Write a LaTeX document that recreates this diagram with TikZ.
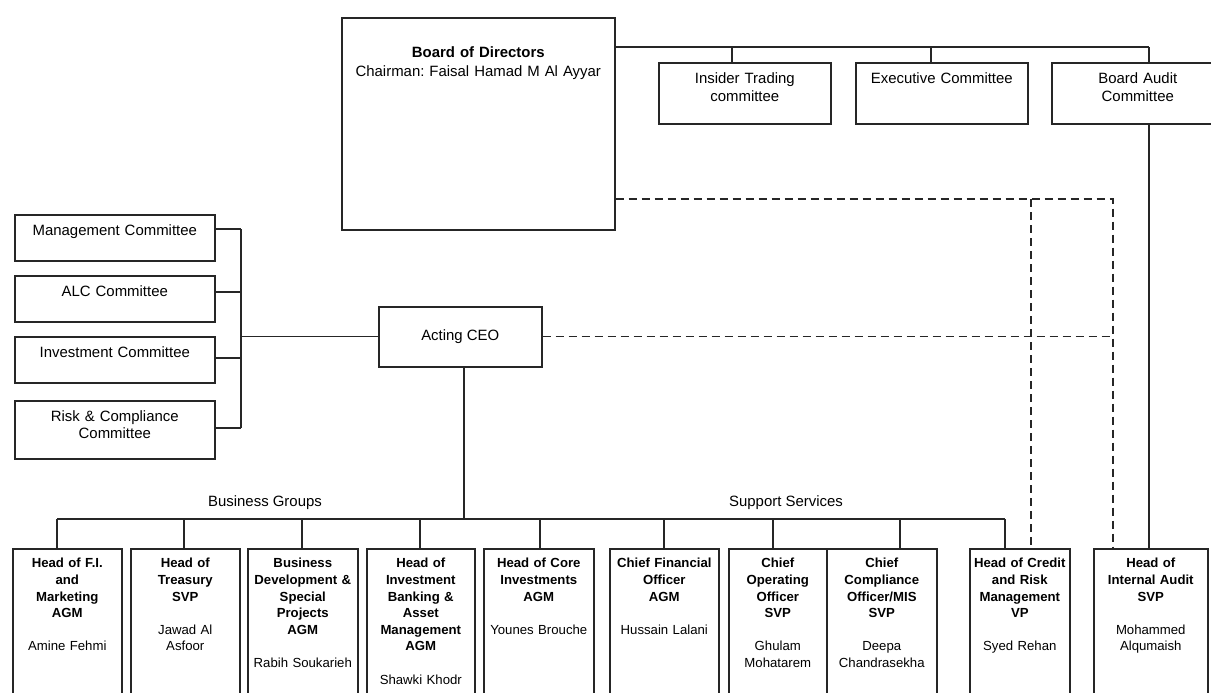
\documentclass[tikz,border=0pt]{standalone}
\usepackage{fontspec}
\setmainfont{Liberation Sans}
\usepackage{tikz}
\frenchspacing

\newcommand{\pxu}{0.02cm}
\newcommand{\holder}[2]{{\bfseries #1}\\[9.45pt]#2}

\begin{document}
\begin{tikzpicture}[x=0.02cm,y=-0.02cm,
  unit/.style={draw=black!85, line width=0.9pt, anchor=north west, inner sep=0pt},
  wh/.style 2 args={minimum width=#1*\pxu, minimum height=#2*\pxu},
  link/.style={draw=black!85, line width=0.75pt},
  dashlink/.style={link, dash pattern=on 4.6pt off 2.8pt},
  tag/.style={anchor=north, align=center, inner sep=0pt, text width=4.2cm,
    yshift=-10.6*\pxu, font=\fontsize{8.5}{9.6}\selectfont},
  poste/.style={tag, text width=2.2cm, yshift=0.6*\pxu, font=\fontsize{7.5}{9.45}\selectfont},
  grouptag/.style={inner sep=0pt, font=\fontsize{8.5}{10}\selectfont}]

\useasboundingbox (0,0) rectangle (1211,693);
\clip (0,0) rectangle (1211,693);

% board and board committees
\node[unit, wh={273}{212}, label={[tag, text width=5.4cm, yshift=-19*\pxu,
  font=\fontsize{8.5}{10.8}\selectfont]above:{\textbf{Board of Directors}\\Chairman: Faisal Hamad M Al Ayyar}}] (board) at (341,17) {};
\node[unit, wh={172}{61}, label={[tag, font=\fontsize{8.5}{10.2}\selectfont]above:{Insider Trading\\committee}}] (insider) at (658,62) {};
\node[unit, wh={172}{61}, label={[tag]above:{Executive Committee}}] (execc) at (855,62) {};
\node[unit, wh={172}{61}, label={[tag, font=\fontsize{8.5}{10.2}\selectfont]above:{Board Audit\\Committee}}] (baudit) at (1051,62) {};

% management committees
\node[unit, wh={200}{46}, label={[tag]above:{Management Committee}}] (mgmt) at (14,214) {};
\node[unit, wh={200}{46}, label={[tag]above:{ALC Committee}}] (alc) at (14,275) {};
\node[unit, wh={200}{46}, label={[tag]above:{Investment Committee}}] (invc) at (14,336) {};
\node[unit, wh={200}{58}, label={[tag]above:{Risk \& Compliance\\Committee}}] (risk) at (14,400) {};

\node[unit, wh={163}{60}, font=\fontsize{8.5}{10}\selectfont] (ceo) at (378,306) {Acting CEO};

% business groups and support services
\node[unit, wh={109}{152}, label={[poste]above:{\holder{Head of F.I.\\and\\Marketing\\AGM}{Amine Fehmi}}}] (fim) at (12,548) {};
\node[unit, wh={109}{152}, label={[poste]above:{\holder{Head of\\Treasury\\SVP}{Jawad Al\\Asfoor}}}] (treas) at (130,548) {};
\node[unit, wh={110}{152}, label={[poste]above:{\holder{Business\\Development \&\\Special\\Projects\\AGM}{Rabih Soukarieh}}}] (bizdev) at (247,548) {};
\node[unit, wh={108}{152}, label={[poste]above:{\holder{Head of\\Investment\\Banking \&\\Asset\\Management\\AGM}{Shawki Khodr}}}] (invbank) at (366,548) {};
\node[unit, wh={110}{152}, label={[poste]above:{\holder{Head of Core\\Investments\\AGM}{Younes Brouche}}}] (core) at (483,548) {};
\node[unit, wh={109}{152}, label={[poste]above:{\holder{Chief Financial\\Officer\\AGM}{Hussain Lalani}}}] (cfo) at (609,548) {};
\node[unit, wh={98}{152}, label={[poste]above:{\holder{Chief\\Operating\\Officer\\SVP}{Ghulam\\Mohatarem}}}] (coo) at (728,548) {};
\node[unit, wh={110}{152}, label={[poste]above:{\holder{Chief\\Compliance\\Officer/MIS\\SVP}{Deepa\\Chandrasekha}}}] (cco) at (826,548) {};
\node[unit, wh={100}{152}, label={[poste]above:{\holder{Head of Credit\\and Risk\\Management\\VP}{Syed Rehan}}}] (credit) at (969,548) {};
\node[unit, wh={114}{152}, label={[poste]above:{\holder{Head of\\Internal Audit\\SVP}{Mohammed\\Alqumaish}}}] (intaud) at (1093,548) {};

\node[grouptag] (bizgroups) at (265,503) {Business Groups};
\node[grouptag] (support) at (786,503) {Support Services};

% board lines
\coordinate (topbus) at (1149,47);
\draw[link] (board.east |- topbus) -- (topbus);
\foreach \x/\n in {732/insider, 931/execc, 1149/baudit} {
  \coordinate (j\n) at (\x,47);
  \draw[link] (j\n) -- (j\n |- \n.north);
}
\draw[link] (jbaudit |- baudit.south) -- (jbaudit |- intaud.north);

% dotted reporting lines
\coordinate (dcorner) at (1113,199);
\coordinate (dsplit) at (1031,199);
\draw[dashlink] (board.east |- dcorner) -- (dcorner) -- (dcorner |- intaud.north);
\draw[dashlink] (dsplit) -- (dsplit |- credit.north);
\draw[dashlink] (ceo.east) -- (ceo.east -| dcorner);

% committees to ceo
\foreach \n/\y in {mgmt/229, alc/292, invc/358, risk/428} {
  \coordinate (c\n) at (241,\y);
  \draw[link] (c\n -| \n.east) -- (c\n);
}
\draw[link] (cmgmt) -- (crisk);
\draw[link] (ceo.west -| cmgmt) -- (ceo.west);

% ceo to units
\coordinate (gbus) at (464,519);
\draw[link] (ceo.south -| gbus) -- (gbus);
\foreach \x/\n in {57/fim, 184/treas, 302/bizdev, 420/invbank, 540/core, 664/cfo, 773/coo, 900/cco, 1005/credit} {
  \coordinate (g\n) at (\x,519);
  \draw[link] (g\n) -- (g\n |- \n.north);
}
\draw[link] (gfim) -- (gcredit);

\end{tikzpicture}
\end{document}
